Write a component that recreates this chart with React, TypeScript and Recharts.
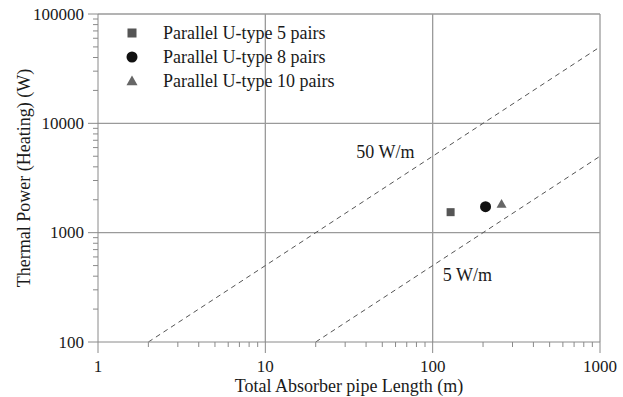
import React from "react";
import {
  ScatterChart,
  Scatter,
  XAxis,
  YAxis,
  ReferenceLine,
  ReferenceDot,
} from "recharts";

const FONT = '"Liberation Serif", "Times New Roman", serif';

// measured points: total pipe length (m) vs heating power (W)
const pairs5 = [{ x: 128, y: 1540 }];
const pairs8 = [{ x: 207, y: 1730 }];
const pairs10 = [{ x: 258, y: 1830 }];

const seriesNames = [
  "Parallel U-type 5 pairs",
  "Parallel U-type 8 pairs",
  "Parallel U-type 10 pairs",
];

// reference lines of constant specific power
const line50 = [
  { x: 2, y: 100 },
  { x: 1000, y: 50000 },
];
const line5 = [
  { x: 20, y: 100 },
  { x: 1000, y: 5000 },
];

const xMajor = [1, 10, 100, 1000];
const yMajor = [100, 1000, 10000, 100000];
const minorMult = [2, 3, 4, 5, 6, 7, 8, 9];

const withMinors = (majors: number[]) => {
  const out: number[] = [];
  majors.forEach((m, i) => {
    out.push(m);
    if (i < majors.length - 1) minorMult.forEach((k) => out.push(m * k));
  });
  return out;
};

const isMajor = (v: number) => Math.abs(Math.log10(v) - Math.round(Math.log10(v))) < 1e-6;

const AXIS = "#8a8a8a";
const GRID = "#9a9a9a";
const TEXT = "#1a1a1a";

const XTick = ({ x, y, payload }: any) => {
  const major = isMajor(payload.value);
  return (
    <g>
      <line x1={x} x2={x} y1={y} y2={y + (major ? 11 : 5)} stroke={AXIS} />
      {major && (
        <text x={x} y={y + 30} textAnchor="middle" fontFamily={FONT} fontSize={17} fill={TEXT}>
          {payload.value}
        </text>
      )}
    </g>
  );
};

const YTick = ({ x, y, payload }: any) => {
  const major = isMajor(payload.value);
  return (
    <g>
      <line x1={x - (major ? 10 : 5)} x2={x} y1={y} y2={y} stroke={AXIS} />
      {major && (
        <text x={x - 14} y={y + 5.5} textAnchor="end" fontFamily={FONT} fontSize={17} fill={TEXT}>
          {payload.value}
        </text>
      )}
    </g>
  );
};

const Square = ({ cx, cy, fill, size = 8 }: any) => (
  <rect x={cx - size / 2} y={cy - size / 2} width={size} height={size} fill={fill} />
);
const Dot = ({ cx, cy, fill, r = 5 }: any) => <circle cx={cx} cy={cy} r={r} fill={fill} />;
const Tri = ({ cx, cy, fill, s = 5 }: any) => (
  <polygon points={`${cx},${cy - s} ${cx + s},${cy + s * 0.75} ${cx - s},${cy + s * 0.75}`} fill={fill} />
);

const colors = ["#555555", "#111111", "#666666"];

const LegendBox = () => (
  <svg width={280} height={90} style={{ position: "absolute", left: 118, top: 21 }}>
    {seriesNames.map((name, i) => {
      const cy = 12 + i * 24;
      const cx = 14;
      return (
        <g key={name}>
          {i === 0 && <Square cx={cx} cy={cy} fill={colors[0]} size={9} />}
          {i === 1 && <Dot cx={cx} cy={cy} fill={colors[1]} r={5.5} />}
          {i === 2 && <Tri cx={cx} cy={cy} fill={colors[2]} s={5.5} />}
          <text x={45} y={cy + 6} fontFamily={FONT} fontSize={18} fill={TEXT}>
            {name}
          </text>
        </g>
      );
    })}
  </svg>
);

const Note = ({ cx, cy, text }: any) => (
  <text x={cx} y={cy + 6} fontFamily={FONT} fontSize={18} fill={TEXT}>
    {text}
  </text>
);

export default function App() {
  return (
    <div style={{ position: "absolute", left: 0, top: 0, width: 623, height: 397, background: "#fff" }}>
      <ScatterChart
        width={623}
        height={397}
        margin={{ top: 14, right: 23, left: 0, bottom: 0 }}
      >
        <XAxis
          type="number"
          dataKey="x"
          scale="log"
          domain={[1, 1000]}
          ticks={withMinors(xMajor)}
          interval={0}
          allowDataOverflow
          tickSize={0}
          tickMargin={0}
          tickLine={false}
          tick={<XTick />}
          height={55}
          stroke={AXIS}
          label={{
            value: "Total Absorber pipe Length (m)",
            position: "insideBottom",
            offset: 5,
            style: { fontFamily: FONT, fontSize: 18, fill: TEXT },
          }}
        />
        <YAxis
          type="number"
          dataKey="y"
          scale="log"
          domain={[100, 100000]}
          ticks={withMinors(yMajor)}
          interval={0}
          allowDataOverflow
          tickSize={0}
          tickMargin={0}
          tickLine={false}
          tick={<YTick />}
          width={98}
          stroke={AXIS}
          label={{
            value: "Thermal Power (Heating) (W)",
            angle: -90,
            position: "insideLeft",
            offset: 24,
            style: { fontFamily: FONT, fontSize: 18, fill: TEXT, textAnchor: "middle" },
          }}
        />
        {xMajor.slice(1).map((v) => (
          <ReferenceLine key={"vx" + v} x={v} stroke={GRID} strokeWidth={1.3} />
        ))}
        {yMajor.slice(1).map((v) => (
          <ReferenceLine key={"hy" + v} y={v} stroke={GRID} strokeWidth={1.3} />
        ))}
        <ReferenceLine segment={line50} stroke="#555" strokeDasharray="5 4" ifOverflow="hidden" />
        <ReferenceLine segment={line5} stroke="#555" strokeDasharray="5 4" ifOverflow="hidden" />
        <ReferenceDot x={35} y={5500} r={0} shape={(p: any) => <Note {...p} text="50 W/m" />} />
        <ReferenceDot x={115} y={410} r={0} shape={(p: any) => <Note {...p} text="5 W/m" />} />
        <Scatter name={seriesNames[0]} data={pairs5} fill={colors[0]} shape={<Square size={8} />} isAnimationActive={false} />
        <Scatter name={seriesNames[1]} data={pairs8} fill={colors[1]} shape={<Dot r={5.5} />} isAnimationActive={false} />
        <Scatter name={seriesNames[2]} data={pairs10} fill={colors[2]} shape={<Tri s={5} />} isAnimationActive={false} />
      </ScatterChart>
      <LegendBox />
    </div>
  );
}
